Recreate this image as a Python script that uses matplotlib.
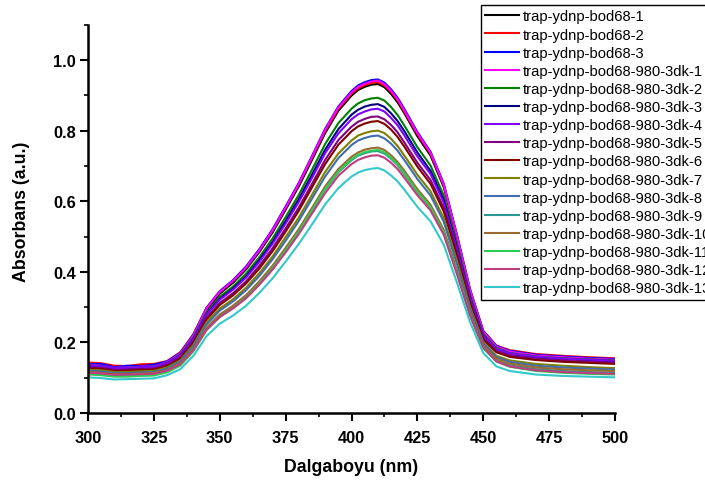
import matplotlib
matplotlib.use("Agg")
import matplotlib.pyplot as plt
from matplotlib.ticker import MultipleLocator

plt.rcParams['font.family'] = ['Liberation Sans', 'DejaVu Sans']

wavelength = [300, 305, 310, 315, 320, 325, 330, 335, 340, 345, 350, 355, 360, 365, 370,
              375, 380, 385, 390, 395, 400, 402.5, 405, 407.5, 410, 412.5, 415, 417.5,
              420, 425, 430, 435, 440, 445, 450, 455, 460, 470, 480, 490, 500]

labels = ["trap-ydnp-bod68-1", "trap-ydnp-bod68-2", "trap-ydnp-bod68-3",
          "trap-ydnp-bod68-980-3dk-1", "trap-ydnp-bod68-980-3dk-2", "trap-ydnp-bod68-980-3dk-3",
          "trap-ydnp-bod68-980-3dk-4", "trap-ydnp-bod68-980-3dk-5", "trap-ydnp-bod68-980-3dk-6",
          "trap-ydnp-bod68-980-3dk-7", "trap-ydnp-bod68-980-3dk-8", "trap-ydnp-bod68-980-3dk-9",
          "trap-ydnp-bod68-980-3dk-10", "trap-ydnp-bod68-980-3dk-11", "trap-ydnp-bod68-980-3dk-12",
          "trap-ydnp-bod68-980-3dk-13"]

colors = ["#000000", "#FF0000", "#0000FF", "#FF00FF", "#008000", "#000080",
          "#8000FF", "#800080", "#800000", "#808000", "#3E6DB0", "#2A9696",
          "#9A6A2E", "#2ECC55", "#C03C80", "#33C8CC"]

s_bod68_1 = [0.133, 0.131, 0.125, 0.128, 0.128, 0.130, 0.141, 0.165, 0.216, 0.291, 0.338, 0.369,
             0.407, 0.456, 0.511, 0.576, 0.642, 0.717, 0.793, 0.856, 0.899, 0.915, 0.924, 0.930,
             0.932, 0.923, 0.904, 0.880, 0.850, 0.784, 0.729, 0.640, 0.496, 0.343, 0.226, 0.184,
             0.171, 0.160, 0.155, 0.151, 0.148]
s_bod68_2 = [0.143, 0.141, 0.134, 0.133, 0.138, 0.139, 0.147, 0.172, 0.223, 0.298, 0.344, 0.375,
             0.414, 0.462, 0.517, 0.582, 0.648, 0.723, 0.799, 0.861, 0.905, 0.920, 0.929, 0.935,
             0.937, 0.928, 0.910, 0.886, 0.855, 0.790, 0.735, 0.646, 0.503, 0.349, 0.233, 0.191,
             0.178, 0.167, 0.162, 0.158, 0.155]
s_bod68_3 = [0.138, 0.139, 0.130, 0.134, 0.133, 0.137, 0.146, 0.170, 0.222, 0.298, 0.345, 0.376,
             0.415, 0.464, 0.520, 0.585, 0.652, 0.728, 0.805, 0.868, 0.912, 0.928, 0.937, 0.943,
             0.945, 0.936, 0.917, 0.893, 0.862, 0.796, 0.740, 0.650, 0.505, 0.350, 0.232, 0.190,
             0.176, 0.165, 0.160, 0.156, 0.153]
s_3dk_1 = [0.136, 0.134, 0.128, 0.129, 0.131, 0.132, 0.144, 0.168, 0.220, 0.296, 0.343, 0.374,
           0.412, 0.461, 0.517, 0.582, 0.649, 0.725, 0.802, 0.865, 0.908, 0.924, 0.933, 0.939,
           0.942, 0.932, 0.913, 0.889, 0.858, 0.793, 0.737, 0.647, 0.502, 0.348, 0.230, 0.188,
           0.174, 0.163, 0.158, 0.154, 0.151]
s_3dk_2 = [0.135, 0.133, 0.127, 0.128, 0.130, 0.131, 0.142, 0.165, 0.214, 0.285, 0.329, 0.358,
           0.395, 0.441, 0.494, 0.555, 0.618, 0.689, 0.762, 0.821, 0.862, 0.877, 0.886, 0.891,
           0.893, 0.885, 0.867, 0.844, 0.815, 0.753, 0.701, 0.616, 0.480, 0.334, 0.223, 0.184,
           0.170, 0.160, 0.155, 0.152, 0.149]
s_3dk_3 = [0.133, 0.131, 0.125, 0.126, 0.128, 0.129, 0.140, 0.162, 0.210, 0.280, 0.323, 0.352,
           0.387, 0.433, 0.484, 0.544, 0.606, 0.675, 0.746, 0.804, 0.845, 0.859, 0.868, 0.873,
           0.875, 0.867, 0.849, 0.827, 0.799, 0.738, 0.686, 0.604, 0.470, 0.328, 0.219, 0.180,
           0.168, 0.157, 0.153, 0.149, 0.146]
s_3dk_4 = [0.135, 0.133, 0.127, 0.128, 0.130, 0.131, 0.142, 0.163, 0.210, 0.279, 0.321, 0.349,
           0.384, 0.428, 0.479, 0.537, 0.598, 0.666, 0.736, 0.792, 0.832, 0.846, 0.854, 0.860,
           0.862, 0.854, 0.836, 0.815, 0.787, 0.727, 0.677, 0.596, 0.465, 0.326, 0.219, 0.181,
           0.169, 0.159, 0.154, 0.151, 0.148]
s_3dk_5 = [0.129, 0.128, 0.122, 0.123, 0.125, 0.126, 0.136, 0.158, 0.203, 0.270, 0.312, 0.339,
           0.373, 0.417, 0.466, 0.523, 0.582, 0.649, 0.717, 0.773, 0.811, 0.825, 0.833, 0.839,
           0.840, 0.832, 0.816, 0.795, 0.767, 0.709, 0.660, 0.581, 0.453, 0.316, 0.212, 0.175,
           0.163, 0.153, 0.149, 0.145, 0.143]
s_3dk_6 = [0.126, 0.125, 0.119, 0.120, 0.122, 0.123, 0.133, 0.154, 0.199, 0.265, 0.306, 0.333,
           0.367, 0.409, 0.458, 0.514, 0.573, 0.639, 0.705, 0.760, 0.798, 0.812, 0.820, 0.825,
           0.827, 0.819, 0.803, 0.782, 0.755, 0.698, 0.649, 0.571, 0.445, 0.310, 0.208, 0.172,
           0.159, 0.150, 0.145, 0.142, 0.139]
s_3dk_7 = [0.122, 0.121, 0.116, 0.116, 0.118, 0.119, 0.129, 0.149, 0.193, 0.257, 0.296, 0.322,
           0.355, 0.396, 0.443, 0.498, 0.554, 0.618, 0.683, 0.735, 0.772, 0.786, 0.793, 0.798,
           0.800, 0.793, 0.777, 0.756, 0.730, 0.675, 0.628, 0.552, 0.431, 0.300, 0.201, 0.162,
           0.149, 0.139, 0.134, 0.130, 0.127]
s_3dk_8 = [0.119, 0.118, 0.113, 0.113, 0.115, 0.116, 0.126, 0.146, 0.189, 0.251, 0.290, 0.316,
           0.348, 0.388, 0.435, 0.488, 0.544, 0.607, 0.670, 0.722, 0.759, 0.772, 0.779, 0.784,
           0.786, 0.778, 0.763, 0.743, 0.717, 0.663, 0.616, 0.542, 0.422, 0.294, 0.197, 0.158,
           0.145, 0.134, 0.129, 0.126, 0.123]
s_3dk_9 = [0.112, 0.110, 0.106, 0.106, 0.108, 0.109, 0.118, 0.137, 0.178, 0.237, 0.274, 0.298,
           0.328, 0.367, 0.410, 0.461, 0.513, 0.573, 0.633, 0.682, 0.716, 0.729, 0.736, 0.741,
           0.742, 0.735, 0.720, 0.702, 0.677, 0.626, 0.582, 0.512, 0.399, 0.278, 0.185, 0.148,
           0.135, 0.124, 0.119, 0.116, 0.114]
s_3dk_10 = [0.116, 0.114, 0.110, 0.110, 0.112, 0.113, 0.122, 0.141, 0.182, 0.242, 0.279, 0.304,
            0.334, 0.373, 0.417, 0.468, 0.521, 0.581, 0.642, 0.691, 0.726, 0.738, 0.746, 0.750,
            0.752, 0.745, 0.730, 0.711, 0.687, 0.634, 0.590, 0.519, 0.405, 0.283, 0.190, 0.153,
            0.140, 0.129, 0.124, 0.121, 0.119]
s_3dk_11 = [0.109, 0.107, 0.103, 0.103, 0.105, 0.106, 0.115, 0.134, 0.175, 0.235, 0.272, 0.297,
            0.327, 0.366, 0.410, 0.461, 0.514, 0.574, 0.635, 0.684, 0.719, 0.731, 0.739, 0.743,
            0.745, 0.738, 0.723, 0.704, 0.680, 0.627, 0.583, 0.512, 0.398, 0.276, 0.183, 0.146,
            0.131, 0.119, 0.114, 0.111, 0.109]
s_3dk_12 = [0.114, 0.112, 0.108, 0.109, 0.110, 0.111, 0.120, 0.138, 0.178, 0.236, 0.272, 0.296,
            0.325, 0.363, 0.406, 0.455, 0.507, 0.565, 0.623, 0.672, 0.705, 0.717, 0.724, 0.729,
            0.730, 0.723, 0.709, 0.691, 0.667, 0.617, 0.574, 0.505, 0.394, 0.276, 0.186, 0.146,
            0.132, 0.121, 0.116, 0.113, 0.111]
s_3dk_13 = [0.101, 0.099, 0.095, 0.096, 0.097, 0.098, 0.107, 0.124, 0.162, 0.218, 0.253, 0.276,
            0.304, 0.340, 0.381, 0.429, 0.479, 0.534, 0.591, 0.637, 0.670, 0.681, 0.688, 0.692,
            0.694, 0.687, 0.673, 0.656, 0.633, 0.584, 0.543, 0.477, 0.370, 0.257, 0.170, 0.132,
            0.119, 0.109, 0.105, 0.103, 0.101]

series = [s_bod68_1, s_bod68_2, s_bod68_3, s_3dk_1, s_3dk_2, s_3dk_3, s_3dk_4, s_3dk_5,
          s_3dk_6, s_3dk_7, s_3dk_8, s_3dk_9, s_3dk_10, s_3dk_11, s_3dk_12, s_3dk_13]

x_ticks = [300, 325, 350, 375, 400, 425, 450, 475, 500]
y_ticks = [0.0, 0.2, 0.4, 0.6, 0.8, 1.0]

fig = plt.figure(figsize=(7.05, 4.81), dpi=100)
ax = fig.add_axes([88 / 705, 1 - 414 / 481, 527 / 705, 388.3 / 481])

for vals, col, lab in zip(series, colors, labels):
    ax.plot(wavelength, vals, color=col, lw=1.5, label=lab)

ax.set_xlim(300, 500)
ax.set_ylim(0, 1.1)
ax.set_xticks(x_ticks)
ax.set_yticks(y_ticks)
ax.set_xticklabels([str(t) for t in x_ticks])
ax.set_yticklabels([f"{t:.1f}" for t in y_ticks])
ax.xaxis.set_minor_locator(MultipleLocator(12.5))
ax.yaxis.set_minor_locator(MultipleLocator(0.1))

for side in ["top", "right"]:
    ax.spines[side].set_visible(False)
for side in ["left", "bottom"]:
    ax.spines[side].set_linewidth(1.8)

ax.tick_params(which="major", direction="out", length=6, width=1.5, labelsize=11.8)
ax.tick_params(which="minor", direction="out", length=3, width=1.2)
ax.tick_params(axis="x", which="major", pad=6)
ax.tick_params(axis="y", which="major", pad=2.5)
for lbl in ax.get_xticklabels() + ax.get_yticklabels():
    lbl.set_fontweight("bold")

ax.set_xlabel("Dalgaboyu (nm)", fontsize=12.8, fontweight="bold")
ax.set_ylabel("Absorbans (a.u.)", fontsize=12.8, fontweight="bold")
ax.xaxis.set_label_coords(0.5, -0.116)
ax.yaxis.set_label_coords(-0.11, 0.52)

leg = ax.legend(loc="upper left", bbox_to_anchor=(481 / 705, 1 - 6 / 481),
                bbox_transform=fig.transFigure, fontsize=10.6, frameon=True,
                fancybox=False, edgecolor="black", framealpha=1,
                handlelength=2.3, handletextpad=0.25, labelspacing=0.28,
                borderpad=0.3, borderaxespad=0)
leg.get_frame().set_linewidth(1.0)

fig.savefig("out.png", dpi=100)
